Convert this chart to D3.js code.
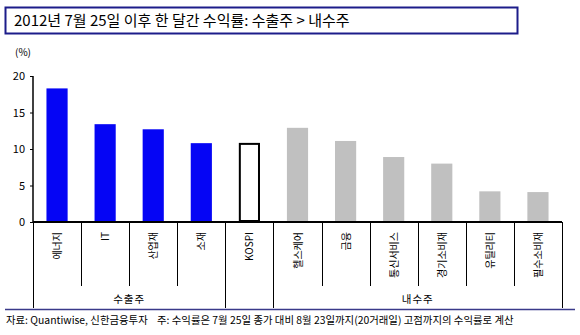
<!DOCTYPE html>
<html><head><meta charset="utf-8">
<script src="https://cdn.jsdelivr.net/npm/d3@7"></script>
<style>body{margin:0;background:#fff}svg{display:block}text{font-family:"Noto Sans CJK KR","Noto Sans",sans-serif}</style>
</head><body><svg id="c" width="580" height="335"></svg>
<script>
const categories = ["에너지","IT","산업재","소재","KOSPI","헬스케어","금융","통신서비스","경기소비재","유틸리티","필수소비재"];
const values = [18.3, 13.4, 12.7, 10.8, 10.7, 12.9, 11.1, 8.9, 8.0, 4.2, 4.1];
const kinds = ["export","export","export","export","kospi","domestic","domestic","domestic","domestic","domestic","domestic"];
const groups = [{name:"수출주", from:0, to:4},{name:"내수주", from:5, to:11}];
const yTicks = [0,5,10,15,20];
const title = "2012년 7월 25일 이후 한 달간 수익률: 수출주 > 내수주";
const unit = "(%)";
const source = "자료: Quantiwise, 신한금융투자    주: 수익률은 7월 25일 종가 대비 8월 23일까지(20거래일) 고점까지의 수익률로 계산";

const svg = d3.select("#c");
const L = 33, R = 562, T = 76, B = 222;
const x = d3.scaleBand().domain(categories).range([L, R]).paddingInner(0.56).paddingOuter(0.28);
const y = d3.scaleLinear().domain([0, 20]).range([B, T]);
const xb = d3.scaleBand().domain(categories).range([L, R]);

// title box
svg.append("rect").attr("x",5.5).attr("y",7.5).attr("width",512).attr("height",26)
  .attr("fill","#fff").attr("stroke","#1c1c8a").attr("stroke-width",2);
svg.append("text").attr("x",14).attr("y",26).attr("font-size",15).attr("fill","#000").text(title);
svg.append("text").attr("x",15).attr("y",56).attr("font-size",10).attr("fill","#000").text(unit);

// bars
svg.selectAll("rect.bar").data(categories).enter().append("rect").attr("class","bar")
  .attr("x", d => x(d) + (kinds[categories.indexOf(d)]==="kospi" ? 1 : 0))
  .attr("width", d => x.bandwidth() - (kinds[categories.indexOf(d)]==="kospi" ? 2 : 0))
  .attr("y", (d,i) => y(values[i]))
  .attr("height", (d,i) => B - y(values[i]) - (kinds[i]==="kospi" ? 1 : 0))
  .attr("fill", (d,i) => kinds[i]==="export" ? "#0505f5" : kinds[i]==="kospi" ? "#fff" : "#c0c0c0")
  .attr("stroke", (d,i) => kinds[i]==="kospi" ? "#000" : "none")
  .attr("stroke-width", 2);

// y axis
const ya = svg.append("g").attr("transform",`translate(${L},0)`)
  .call(d3.axisLeft(y).tickValues(yTicks).tickSize(3).tickPadding(5));
ya.select(".domain").attr("stroke","#000").attr("stroke-width",1.5).attr("d",`M0,${T}V${B}`);
ya.selectAll("text").attr("font-size",11).attr("font-family","Arial, 'Liberation Sans', sans-serif").attr("fill","#000");

// x axis line
svg.append("line").attr("x1",L).attr("x2",R).attr("y1",B).attr("y2",B).attr("stroke","#000").attr("stroke-width",2);

// dividers
const longIdx = new Set([0,4,5,11]);
for (let i = 0; i <= categories.length; i++) {
  const xx = Math.round(i < categories.length ? xb(categories[i]) : xb.range()[1]) + 0.5;
  svg.append("line").attr("x1",xx).attr("x2",xx).attr("y1",B).attr("y2", longIdx.has(i) ? 308 : 286)
    .attr("stroke","#000").attr("stroke-width",1);
}

// category labels
svg.selectAll("text.cat").data(categories).enter().append("text").attr("class","cat")
  .attr("transform", d => `translate(${xb(d)+xb.bandwidth()/2+4},232) rotate(-90)`)
  .attr("text-anchor","end").attr("font-size",10).attr("fill","#000").text(d => d);

// group labels
groups.forEach(g => {
  const x0 = g.from === 0 ? L : xb(categories[g.from]);
  const x1 = g.to >= categories.length ? R : xb(categories[g.to]);
  svg.append("text").attr("x",(x0+x1)/2).attr("y",303).attr("text-anchor","middle")
    .attr("font-size",10.5).attr("letter-spacing",1).attr("fill","#000").text(g.name);
});

// bottom separator & source
svg.append("line").attr("x1",5).attr("x2",575).attr("y1",309.5).attr("y2",309.5).attr("stroke","#3a3a8a").attr("stroke-width",1.5);
svg.append("text").attr("x",6).attr("y",324).attr("font-size",10.4).attr("fill","#000").attr("xml:space","preserve").text(source);
</script></body></html>
